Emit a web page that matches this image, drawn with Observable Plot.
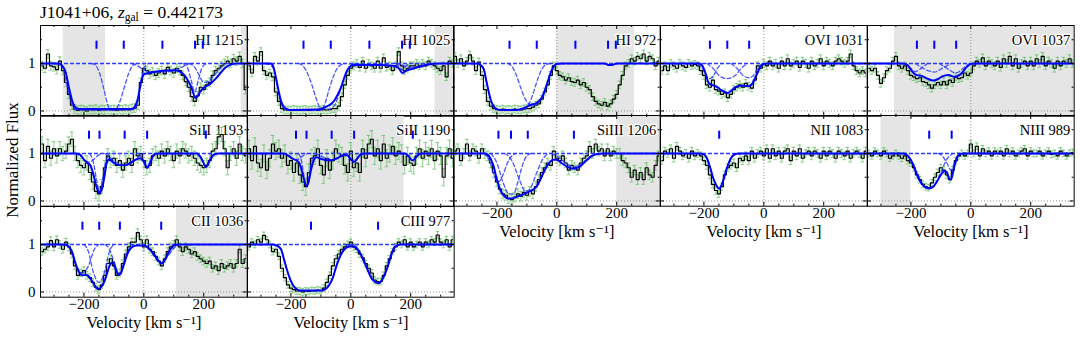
<!DOCTYPE html>
<html><head><meta charset="utf-8">
<script src="https://cdn.jsdelivr.net/npm/d3@7"></script>
<script src="https://cdn.jsdelivr.net/npm/@observablehq/plot@0.6"></script>
<style>
body{margin:0;background:#fff;}
#fig{position:relative;width:1080px;height:343px;overflow:hidden;font-family:"Liberation Serif","DejaVu Serif",serif;background:#fff;}
#fig .pan{position:absolute;}
#fig svg{background:transparent !important;overflow:visible !important;max-width:none !important;font-family:"Liberation Serif","DejaVu Serif",serif !important;}
#fig svg text, #fig svg g{font-family:"Liberation Serif","DejaVu Serif",serif !important;}
.title{position:absolute;left:40px;top:2px;font-size:17.5px;white-space:nowrap;line-height:20px;}
.title sub{font-size:11.5px;vertical-align:-3px;}
.ylab{position:absolute;left:13px;top:160px;transform:translate(-50%,-50%) rotate(-90deg);font-size:17px;white-space:nowrap;}
</style></head><body>
<div id="fig">
<div class="title">J1041+06, <i>z</i><sub>gal</sub> = 0.442173</div>
<div class="ylab">Normalized Flux</div>
</div>
<script>
// ---------- data (velocity grid: -340 .. 340 km/s, 10 km/s pixels) ----------
const V0 = -340, DV = 10;
const xMajor = [-200, 0, 200];
const xMinor = [-300, -250, -150, -100, -50, 50, 100, 150, 250, 300];
const yMajor = [0, 1];
const yMinor = [0.5, 1.5];
const xTickLabels = [{v: -200, t: "−200"}, {v: 0, t: "0"}, {v: 200, t: "200"}];
const yTickLabels = [{v: 0, t: "0"}, {v: 1, t: "1"}];
const markerRange = [1.3, 1.47];

const labels = ["HI 1215","HI 1025","HI 972","OVI 1031","OVI 1037","SiII 1193","SiII 1190","SiIII 1206","NII 1083","NIII 989","CII 1036","CIII 977"];

const fluxHI1215 = [0.95,0.9,1.2,0.95,0.93,0.87,1.05,0.85,0.6,0.35, 0.12,0.04,0.01,0.03,0.02,0.0,0.03,0.02,0.04,0.01, 0.03,0.02,0.04,0.02,0.03,0.01,0.03,0.02,0.04,0.02, 0.05,0.06,0.12,0.6,0.9,0.85,0.78,0.82,0.75,0.8, 0.85,0.78,0.92,0.85,0.8,0.9,0.85,0.75,0.62,0.5, 0.3,0.2,0.32,0.5,0.45,0.55,0.6,0.75,0.85,0.9, 0.95,1.0,1.05,1.0,1.1,1.05,1.15,1.0,0.45];
const fluxHI1025 = [0.95,0.8,1.15,1.05,1.25,0.85,0.75,0.8,0.72,0.4, 0.2,0.05,0.02,0.02,0.01,0.03,0.02,0.01,0.02,0.03, 0.01,0.02,0.03,0.01,0.02,0.03,0.02,0.03,0.05,0.05, 0.1,0.3,0.55,0.75,0.9,0.95,1.0,0.92,1.05,0.9, 1.0,0.95,0.9,1.05,0.9,1.12,0.92,0.95,0.85,0.95, 1.25,0.95,0.85,0.9,0.95,0.95,1.0,0.95,1.0,0.95, 1.05,1.0,0.95,0.9,0.85,0.95,0.72,1.05,1.0];
const fluxHI972 = [1.15,1.0,1.1,0.95,1.05,1.18,1.05,0.85,1.03,0.75, 0.45,0.2,0.1,0.05,0.03,0.02,0.04,0.02,0.03,0.02, 0.04,0.03,0.02,0.04,0.05,0.05,0.08,0.12,0.15,0.25, 0.4,0.55,0.75,0.95,0.85,0.75,0.72,0.65,0.7,0.62, 0.6,0.65,0.55,0.6,0.5,0.45,0.3,0.2,0.15,0.12, 0.18,0.1,0.15,0.25,0.35,0.55,0.75,0.95,1.0,1.1, 1.05,1.15,1.1,1.2,1.05,1.15,1.1,0.95,1.05];
const fluxOVI1031 = [0.85,0.95,0.85,1.0,0.95,0.9,1.0,0.95,0.92,1.0, 0.95,0.98,0.95,0.85,0.75,0.55,0.5,0.65,0.45,0.42, 0.35,0.38,0.28,0.35,0.45,0.5,0.55,0.5,0.58,0.52, 0.48,0.65,0.95,0.9,1.0,0.95,1.05,0.95,1.0,0.9, 1.05,0.95,1.1,0.95,1.0,1.05,0.92,1.05,1.0,0.9, 1.05,0.95,1.0,1.1,0.95,1.05,1.0,0.95,1.05,1.1, 1.05,1.0,1.05,1.2,0.95,0.85,0.8,0.85,0.8];
const fluxOVI1037 = [0.9,0.85,0.9,0.75,0.58,0.7,0.85,0.9,1.05,1.15, 0.95,0.9,0.95,0.85,0.75,0.72,0.68,0.7,0.62,0.6, 0.55,0.48,0.55,0.6,0.55,0.62,0.55,0.65,0.6,0.72, 0.68,0.7,0.8,0.75,0.8,0.95,1.05,1.0,1.12,0.95, 1.05,1.0,0.95,1.05,0.92,1.1,1.0,1.15,0.95,1.1, 0.9,1.0,1.05,0.95,1.05,0.95,1.1,1.0,1.15,0.95, 1.05,1.0,0.9,1.05,0.95,1.05,1.0,1.1,1.0];
const fluxSiII1193 = [1.2,0.85,1.15,0.9,1.1,0.95,1.1,1.0,1.05,1.2, 1.3,1.0,0.85,0.75,0.7,0.8,0.6,0.4,0.2,0.15, 0.3,0.7,0.95,0.85,0.9,0.75,0.85,0.65,0.8,0.9, 0.75,1.1,0.95,1.0,0.85,0.7,0.75,0.95,1.0,0.9, 1.05,0.95,1.1,1.0,0.85,1.05,0.95,1.1,1.05,0.95, 1.0,0.9,0.8,0.75,0.7,0.75,0.85,1.05,1.1,1.35, 1.4,1.1,0.7,1.0,1.1,0.9,1.2,1.0,0.95];
const fluxSiII1190 = [1.1,0.85,1.15,0.8,0.7,1.0,0.65,0.9,1.2,1.05, 1.1,0.9,1.0,0.75,0.85,0.6,0.8,0.55,0.4,0.3, 0.6,0.9,0.95,1.1,0.75,0.55,0.9,0.65,0.85,1.1, 1.0,0.95,0.75,0.6,1.05,0.7,0.8,0.6,1.1,0.9, 1.2,1.3,0.95,1.1,0.85,1.2,0.9,1.0,1.15,0.95, 1.05,1.0,0.75,0.95,0.8,0.75,0.95,1.1,0.9,1.05, 0.95,1.1,0.85,1.05,0.95,0.5,0.95,1.1,0.9];
const fluxSiIII1206 = [1.05,1.1,0.85,1.0,1.2,0.95,1.1,1.05,0.9,1.1, 1.0,0.95,0.8,0.6,0.4,0.25,0.15,0.12,0.05,0.03, 0.08,0.15,0.1,0.18,0.12,0.2,0.15,0.3,0.45,0.6, 0.7,0.8,0.75,1.05,0.9,0.85,0.95,0.8,0.65,0.75, 0.7,0.65,0.8,0.9,0.95,1.15,1.0,1.2,1.05,1.1, 0.95,1.1,0.95,1.05,1.0,1.0,0.85,0.8,0.7,0.5, 0.65,0.45,0.6,0.45,0.7,0.55,0.5,0.75,0.95];
const fluxNII1083 = [0.85,1.05,1.0,1.1,0.9,1.15,1.05,0.95,1.0,0.9, 1.05,0.95,1.0,0.95,0.85,0.75,0.55,0.35,0.22,0.15, 0.3,0.55,0.7,0.75,0.8,0.7,0.9,0.85,0.95,0.85, 1.05,0.9,1.0,1.05,0.95,1.1,0.9,1.1,0.95,1.05, 0.9,1.05,1.1,0.85,1.05,0.95,1.1,0.9,1.0,1.05, 0.95,1.05,1.0,0.9,1.05,0.95,1.05,1.0,0.9,1.05, 1.0,0.95,1.05,0.9,1.0,1.05,1.0,0.9,1.05];
const fluxNIII989 = [1.0,0.95,1.05,1.0,0.95,1.05,1.0,0.9,0.95,1.0, 0.95,0.9,0.95,0.85,0.8,0.7,0.55,0.45,0.35,0.3, 0.28,0.38,0.5,0.6,0.7,0.65,0.55,0.45,0.65,0.85, 0.95,1.0,0.95,1.0,1.2,1.0,1.15,0.95,1.1,1.0, 1.05,0.95,1.05,1.0,1.05,0.95,1.1,1.0,1.05,0.95, 1.0,1.05,1.1,0.95,1.05,1.0,1.0,1.05,0.95,1.0, 1.05,0.98,1.0,0.95,1.05,1.0,0.95,1.0,1.02];
const fluxCII1036 = [0.85,0.9,0.95,1.08,0.95,1.1,1.0,0.9,1.05,0.95, 0.8,0.55,0.35,0.4,0.45,0.35,0.3,0.2,0.1,0.05, 0.15,0.35,0.6,0.7,0.55,0.35,0.4,0.6,0.8,0.95, 1.05,1.05,1.25,1.1,0.95,1.1,0.9,0.85,0.75,0.65, 0.55,0.7,0.85,0.95,1.0,1.1,0.95,0.85,0.95,0.9, 0.8,0.85,0.75,0.7,0.65,0.6,0.65,0.5,0.55,0.45, 0.6,0.5,0.55,0.6,0.5,0.6,0.9,0.6,0.7];
const fluxCIII977 = [0.95,1.05,1.0,1.1,1.05,1.19,1.1,1.0,0.85,0.9, 0.75,0.5,0.3,0.15,0.08,0.05,0.02,0.02,0.0,0.02, 0.01,0.03,0.02,0.04,0.03,0.08,0.2,0.35,0.55,0.7, 0.8,0.9,0.95,1.0,1.05,0.95,0.9,0.8,0.72,0.6, 0.5,0.4,0.25,0.22,0.22,0.35,0.55,0.7,0.85,0.95, 1.05,1.0,1.1,0.95,1.05,0.95,1.0,1.05,0.95,1.05, 1.0,1.1,1.05,1.2,1.05,1.0,1.1,0.95,1.1];

const errs = [0.09,0.08,0.08,0.08,0.08,0.15,0.18,0.1,0.08,0.07,0.08,0.07];

// best-fit model (solid) sampled as [velocity, flux]
const modelHI1215 = [[-345,1],[-285,1],[-278,0.99],[-270,0.93],[-261,0.82],[-255,0.65],[-250,0.49],[-244,0.33],[-239,0.21],[-233,0.12],[-228,0.07],[-215,0.04],[-40,0.04],[-33,0.07],[-27,0.13],[-22,0.21],[-16,0.38],[-11,0.56],[-5,0.7],[0,0.77],[17,0.8],[56,0.84],[100,0.86],[120,0.83],[133,0.77],[145,0.67],[156,0.54],[165,0.38],[172,0.28],[178,0.3],[185,0.37],[194,0.45],[208,0.52],[222,0.57],[240,0.68],[256,0.8],[272,0.91],[289,0.97],[310,1],[345,1]];
const modelHI1025 = [[-345,1],[-270,1],[-262,0.98],[-256,0.87],[-250,0.7],[-242,0.45],[-233,0.21],[-225,0.1],[-217,0.05],[-200,0.02],[-110,0.03],[-89,0.07],[-70,0.13],[-56,0.21],[-45,0.33],[-33,0.49],[-22,0.7],[-11,0.87],[0,0.95],[10,0.97],[100,0.97],[140,0.95],[160,0.9],[172,0.8],[182,0.84],[200,0.88],[230,0.93],[260,0.98],[290,1],[345,1]];
const modelHI972 = [[-345,1],[-265,1],[-255,0.97],[-244,0.88],[-236,0.65],[-228,0.42],[-220,0.22],[-211,0.1],[-200,0.04],[-185,0.02],[-133,0.02],[-115,0.05],[-100,0.09],[-85,0.13],[-67,0.17],[-55,0.24],[-45,0.35],[-33,0.56],[-22,0.78],[-12,0.92],[0,0.99],[15,1],[160,1],[172,0.97],[185,0.97],[200,1],[345,1]];
const modelOVI1031 = [[-345,1],[-215,1],[-205,0.95],[-195,0.8],[-185,0.6],[-175,0.55],[-160,0.52],[-145,0.45],[-130,0.4],[-120,0.38],[-110,0.42],[-95,0.5],[-80,0.53],[-65,0.53],[-50,0.52],[-38,0.58],[-25,0.75],[-12,0.92],[0,0.99],[15,1],[345,1]];
const modelOVI1037 = [[-345,1],[-230,1],[-212,0.97],[-198,0.85],[-183,0.76],[-165,0.74],[-145,0.68],[-125,0.64],[-110,0.67],[-95,0.73],[-75,0.76],[-55,0.72],[-45,0.73],[-30,0.8],[-15,0.92],[0,0.99],[15,1],[345,1]];
const modelSiII1193 = [[-345,1],[-225,1],[-212,0.97],[-200,0.87],[-188,0.8],[-178,0.74],[-168,0.55],[-158,0.3],[-148,0.17],[-140,0.25],[-132,0.5],[-124,0.8],[-115,0.88],[-100,0.8],[-85,0.76],[-64,0.75],[-45,0.8],[-30,0.86],[-12,0.9],[0,0.83],[11,0.7],[22,0.82],[33,0.97],[45,1],[178,1],[192,0.9],[208,0.72],[222,0.88],[236,0.98],[250,1],[345,1]];
const modelSiII1190 = [[-345,1],[-225,1],[-210,0.96],[-195,0.89],[-183,0.86],[-172,0.8],[-163,0.62],[-155,0.42],[-148,0.31],[-141,0.4],[-133,0.65],[-125,0.84],[-115,0.92],[-100,0.89],[-80,0.86],[-64,0.86],[-45,0.9],[-25,0.97],[-12,0.96],[0,0.88],[11,0.82],[22,0.9],[33,0.98],[45,1],[180,1],[193,0.94],[206,0.85],[220,0.94],[233,1],[345,1]];
const modelSiIII1206 = [[-345,1],[-240,1],[-225,0.93],[-212,0.75],[-200,0.45],[-190,0.25],[-175,0.1],[-160,0.05],[-145,0.06],[-125,0.11],[-105,0.16],[-85,0.22],[-68,0.3],[-55,0.45],[-42,0.63],[-28,0.78],[-12,0.87],[0,0.87],[15,0.8],[35,0.72],[56,0.68],[75,0.72],[95,0.83],[115,0.94],[135,0.99],[155,1],[345,1]];
const modelNII1083 = [[-345,1],[-215,1],[-200,0.98],[-190,0.9],[-180,0.72],[-170,0.5],[-160,0.35],[-150,0.26],[-140,0.35],[-130,0.55],[-120,0.75],[-110,0.9],[-100,0.97],[-85,1],[345,1]];
const modelNIII989 = [[-345,1],[-225,1],[-210,0.95],[-195,0.8],[-183,0.6],[-170,0.42],[-155,0.3],[-140,0.26],[-125,0.3],[-112,0.42],[-100,0.55],[-88,0.63],[-80,0.6],[-72,0.47],[-66,0.45],[-58,0.65],[-48,0.88],[-38,0.98],[-25,1],[345,1]];
const modelCII1036 = [[-345,1],[-265,1],[-255,0.98],[-240,0.85],[-228,0.6],[-215,0.4],[-205,0.35],[-195,0.36],[-185,0.33],[-170,0.2],[-158,0.08],[-150,0.07],[-140,0.12],[-130,0.25],[-120,0.45],[-110,0.6],[-103,0.62],[-95,0.5],[-85,0.36],[-78,0.38],[-68,0.55],[-55,0.8],[-42,0.93],[-25,0.98],[0,0.98],[20,0.9],[35,0.78],[50,0.65],[58,0.6],[68,0.65],[80,0.8],[92,0.93],[105,0.99],[120,1],[345,1]];
const modelCIII977 = [[-345,1],[-260,1],[-245,0.97],[-233,0.9],[-222,0.66],[-210,0.4],[-200,0.23],[-185,0.08],[-170,0.03],[-100,0.03],[-85,0.06],[-72,0.15],[-60,0.3],[-48,0.55],[-35,0.76],[-22,0.9],[-5,0.96],[10,0.96],[25,0.88],[40,0.7],[55,0.48],[70,0.28],[85,0.2],[95,0.19],[108,0.3],[122,0.51],[135,0.78],[147,0.95],[165,1],[345,1]];

// individual components (dashed), sampled as [velocity, flux]
const compsHI1215 = [
  [[-300,1],[-285,0.99],[-275,0.95],[-262,0.7],[-250,0.35],[-238,0.1],[-225,0.02],[-95,0.02],[-80,0.2],[-65,0.5],[-50,0.8],[-35,0.97],[-20,1]],
  [[-175,1],[-162,0.97],[-148,0.8],[-133,0.45],[-120,0.12],[-110,0.02],[-38,0.03],[-25,0.1],[-15,0.4],[-5,0.75],[5,0.95],[15,1]],
  [[-40,1],[-20,0.95],[0,0.86],[30,0.82],[70,0.82],[110,0.86],[135,0.95],[155,1]],
  [[130,1],[145,0.92],[158,0.65],[170,0.4],[182,0.65],[195,0.92],[210,1]],
  [[150,1],[170,0.92],[185,0.75],[200,0.6],[215,0.62],[235,0.75],[255,0.9],[275,1]]];
const compsHI1025 = [
  [[-285,1],[-270,0.97],[-256,0.87],[-245,0.5],[-235,0.2],[-225,0.06],[-210,0.02],[-100,0.02],[-88,0.12],[-75,0.4],[-60,0.7],[-45,0.9],[-30,0.98],[-20,1]],
  [[-175,1],[-160,0.95],[-145,0.8],[-130,0.55],[-115,0.25],[-100,0.05],[-70,0.04],[-56,0.1],[-45,0.25],[-33,0.49],[-22,0.7],[-11,0.87],[5,0.98],[20,1]],
  [[150,1],[163,0.92],[172,0.86],[182,0.93],[195,1]],
  [[150,1],[170,0.97],[198,0.92],[230,0.95],[260,1]]];
const compsHI972 = [
  [[-285,1],[-262,0.98],[-244,0.88],[-236,0.65],[-228,0.42],[-220,0.22],[-211,0.1],[-200,0.03],[-110,0.03],[-95,0.12],[-80,0.35],[-65,0.65],[-50,0.88],[-35,0.98],[-20,1]],
  [[-165,1],[-150,0.94],[-135,0.75],[-120,0.48],[-105,0.25],[-90,0.14],[-75,0.12],[-60,0.18],[-45,0.33],[-33,0.56],[-22,0.78],[-12,0.92],[0,0.99],[15,1]],
  [[155,1],[170,0.98],[185,0.97],[200,1]]];
const compsOVI1031 = [
  [[-220,1],[-205,0.9],[-190,0.72],[-180,0.68],[-170,0.72],[-155,0.9],[-140,1]],
  [[-190,1],[-170,0.9],[-150,0.75],[-122,0.68],[-95,0.75],[-75,0.9],[-55,1]],
  [[-110,1],[-90,0.9],[-70,0.75],[-50,0.7],[-35,0.75],[-20,0.9],[-5,1]]];
const compsOVI1037 = [
  [[-225,1],[-205,0.92],[-185,0.83],[-165,0.9],[-145,1]],
  [[-185,1],[-160,0.9],[-122,0.82],[-90,0.92],[-65,1]],
  [[-105,1],[-80,0.9],[-50,0.8],[-25,0.9],[-5,1]]];
const compsSiII1193 = [
  [[-230,1],[-212,0.95],[-195,0.85],[-183,0.82],[-170,0.86],[-155,0.95],[-140,1]],
  [[-180,1],[-168,0.8],[-158,0.45],[-148,0.2],[-138,0.45],[-128,0.8],[-115,1]],
  [[-130,1],[-110,0.9],[-85,0.79],[-64,0.76],[-40,0.8],[-20,0.92],[0,1]],
  [[-15,1],[-3,0.88],[11,0.71],[24,0.88],[35,1]],
  [[178,1],[192,0.88],[208,0.72],[222,0.88],[236,1]]];
const compsSiII1190 = [
  [[-225,1],[-205,0.95],[-190,0.88],[-183,0.87],[-175,0.88],[-160,0.95],[-145,1]],
  [[-175,1],[-165,0.85],[-157,0.55],[-148,0.32],[-139,0.55],[-130,0.85],[-120,1]],
  [[-120,1],[-100,0.95],[-80,0.89],[-64,0.87],[-45,0.9],[-25,0.96],[-10,1]],
  [[-15,1],[-5,0.93],[11,0.83],[25,0.93],[35,1]],
  [[180,1],[193,0.94],[206,0.86],[220,0.94],[232,1]]];
const compsSiIII1206 = [
  [[-245,1],[-225,0.85],[-210,0.55],[-195,0.4],[-180,0.55],[-165,0.8],[-150,0.95],[-135,1]],
  [[-220,1],[-200,0.8],[-180,0.4],[-160,0.15],[-145,0.15],[-130,0.4],[-115,0.75],[-100,0.95],[-85,1]],
  [[-175,1],[-150,0.85],[-125,0.45],[-105,0.2],[-90,0.25],[-70,0.55],[-50,0.85],[-30,1]],
  [[-20,1],[0,0.95],[30,0.8],[57,0.72],[85,0.8],[115,0.95],[140,1]]];
const compsNII1083 = [
  [[-215,1],[-200,0.98],[-190,0.9],[-180,0.72],[-170,0.5],[-160,0.35],[-150,0.26],[-140,0.35],[-130,0.55],[-120,0.75],[-110,0.9],[-100,0.97],[-85,1]]];
const compsNIII989 = [
  [[-225,1],[-205,0.9],[-180,0.6],[-160,0.35],[-140,0.28],[-120,0.35],[-100,0.6],[-80,0.88],[-60,1]],
  [[-110,1],[-95,0.95],[-80,0.8],[-66,0.65],[-55,0.8],[-45,0.95],[-35,1]]];
const compsCII1036 = [
  [[-260,1],[-245,0.9],[-225,0.55],[-205,0.4],[-185,0.55],[-165,0.9],[-150,1]],
  [[-200,1],[-185,0.85],[-170,0.45],[-150,0.2],[-130,0.45],[-115,0.85],[-100,1]],
  [[-130,1],[-115,0.9],[-100,0.65],[-82,0.38],[-65,0.65],[-50,0.9],[-35,1]],
  [[-5,1],[15,0.92],[35,0.75],[58,0.6],[80,0.75],[100,0.92],[115,1]]];
const compsCIII977 = [
  [[-260,1],[-245,0.97],[-233,0.9],[-222,0.66],[-210,0.4],[-200,0.23],[-185,0.08],[-170,0.03],[-100,0.03],[-85,0.06],[-72,0.15],[-60,0.3],[-48,0.55],[-35,0.76],[-22,0.9],[-5,0.98],[10,1]],
  [[-10,1],[10,0.98],[25,0.89],[40,0.7],[55,0.48],[70,0.28],[85,0.2],[95,0.19],[108,0.3],[122,0.51],[135,0.78],[147,0.95],[165,1]]];

// component centroid markers (km/s)
const markHI = [-158, -67, 62, 171, 197];
const markOVI = [-180, -122, -49];
const markSiII = [-183, -148, -64, 11, 207];
const markSiIII = [-195, -153, -97, 57];
const markNII = [-149];
const markNIII = [-139, -64];
const markCII = [-205, -149, -80, 58];
const markCIII = [-133, 91];

// masked (shaded) velocity ranges
const shadeHI1215 = [[-269, -128], [325, 345]];
const shadeHI1025 = [[281, 345]];
const shadeHI972 = [[0, 259]];
const shadeOVI1037 = [[-255, 345]];
const shadeSiII1190 = [[-345, 178]];
const shadeSiIII1206 = [[200, 345]];
const shadeNIII989 = [[-300, -200]];
const shadeCII1036 = [[109, 345]];

// ---------- build panels ----------
const fluxes = [fluxHI1215, fluxHI1025, fluxHI972, fluxOVI1031, fluxOVI1037, fluxSiII1193, fluxSiII1190, fluxSiIII1206, fluxNII1083, fluxNIII989, fluxCII1036, fluxCIII977];
const models = [modelHI1215, modelHI1025, modelHI972, modelOVI1031, modelOVI1037, modelSiII1193, modelSiII1190, modelSiIII1206, modelNII1083, modelNIII989, modelCII1036, modelCIII977];
const comps = [compsHI1215, compsHI1025, compsHI972, compsOVI1031, compsOVI1037, compsSiII1193, compsSiII1190, compsSiIII1206, compsNII1083, compsNIII989, compsCII1036, compsCIII977];
const markers = [markHI, markHI, markHI, markOVI, markOVI, markSiII, markSiII, markSiIII, markNII, markNIII, markCII, markCIII];
const shades = [shadeHI1215, shadeHI1025, shadeHI972, [], shadeOVI1037, [], shadeSiII1190, shadeSiIII1206, [], shadeNIII989, shadeCII1036, []];

const X0 = 40, Y0 = 24.5, PW = 206.67, PH = 90.7;
const XD = [-345, 345], YD = [-0.11, 1.8];
const BLUE = "#0000ff", DASHBLUE = "#2b3bff", ERR = "#5fbf5f", SHADE = "#e5e5e5";
const FONT = "Liberation Serif";
const fig = document.getElementById("fig");

labels.forEach((label, k) => {
  const row = Math.floor(k / 5), col = k % 5;
  const showX = (row === 2) || (row === 1 && col >= 2);
  const showY = col === 0;
  const ml = 45, mr = 6, mt = 6, mb = 46;
  const W = PW, H = PH;
  const pts = fluxes[k].map((f, i) => ({v: V0 + i * DV, f}));
  const e = errs[k];
  const lineOf = (arr, opts) => Plot.line(arr, {x: d => d[0], y: d => d[1], curve: "monotone-x", clip: true, ...opts});
  const marks = [
    Plot.rect(shades[k], {x1: d => d[0], x2: d => d[1], fill: SHADE}),
    Plot.ruleY([0], {stroke: "#777", strokeDasharray: "1,2", strokeWidth: 0.8}),
    Plot.ruleX([0], {stroke: "#777", strokeDasharray: "1,2", strokeWidth: 0.8}),
    Plot.text([label], {frameAnchor: "top-right", textAnchor: "end", dx: -4, dy: 9, fontSize: 14.5, fill: "black", stroke: "white", strokeWidth: 2.5, paintOrder: "stroke", fontFamily: FONT}),
    Plot.ruleX(pts, {x: "v", y1: d => d.f - e, y2: d => d.f + e, stroke: ERR, strokeOpacity: 0.75, strokeWidth: 1, clip: true}),
    Plot.ruleY(pts, {y: d => d.f + e, x1: d => d.v - 6, x2: d => d.v + 6, stroke: ERR, strokeOpacity: 0.75, strokeWidth: 1, clip: true}),
    Plot.ruleY(pts, {y: d => d.f - e, x1: d => d.v - 6, x2: d => d.v + 6, stroke: ERR, strokeOpacity: 0.75, strokeWidth: 1, clip: true}),
    Plot.line(pts, {x: "v", y: "f", curve: "step", stroke: "#000", strokeWidth: 1.2, clip: true}),
    Plot.ruleY([1], {stroke: DASHBLUE, strokeDasharray: "4,2", strokeWidth: 1.3}),
    ...comps[k].map(c => lineOf(c, {stroke: DASHBLUE, strokeDasharray: "4,2.5", strokeWidth: 1.3, strokeOpacity: 0.85})),
    lineOf(models[k], {stroke: BLUE, strokeWidth: 2}),
    Plot.ruleX(markers[k], {x: d => d, y1: () => markerRange[0], y2: () => markerRange[1], stroke: BLUE, strokeWidth: 2}),
    // inward ticks on all sides
    Plot.ruleX(xMajor, {x: d => d, insetTop: H - 4, stroke: "black"}),
    Plot.ruleX(xMajor, {x: d => d, insetBottom: H - 4, stroke: "black"}),
    Plot.ruleX(xMinor, {x: d => d, insetTop: H - 2, stroke: "black"}),
    Plot.ruleX(xMinor, {x: d => d, insetBottom: H - 2, stroke: "black"}),
    Plot.ruleY(yMajor, {y: d => d, insetRight: W - 4, stroke: "black"}),
    Plot.ruleY(yMajor, {y: d => d, insetLeft: W - 4, stroke: "black"}),
    Plot.ruleY(yMinor, {y: d => d, insetRight: W - 2, stroke: "black"}),
    Plot.ruleY(yMinor, {y: d => d, insetLeft: W - 2, stroke: "black"}),
    Plot.frame({stroke: "black", strokeWidth: 1})
  ];
  if (showX) {
    marks.push(Plot.text(xTickLabels, {x: "v", text: "t", frameAnchor: "bottom", dy: 12, fontSize: 15, fill: "black", fontFamily: FONT}));
    marks.push(Plot.text(["Velocity [km s⁻¹]"], {frameAnchor: "bottom", dy: 31, fontSize: 16.5, fill: "black", fontFamily: FONT}));
  }
  if (showY) {
    marks.push(Plot.text(yTickLabels, {y: "v", text: "t", frameAnchor: "left", textAnchor: "end", dx: -5, fontSize: 15, fill: "black", fontFamily: FONT}));
  }
  const svg = Plot.plot({
    width: W + ml + mr, height: H + mt + mb,
    marginLeft: ml, marginRight: mr, marginTop: mt, marginBottom: mb,
    x: {domain: XD, axis: null},
    y: {domain: YD, axis: null},
    style: {background: "transparent", overflow: "visible", fontFamily: "'Liberation Serif', 'DejaVu Serif', serif"},
    marks
  });
  const div = document.createElement("div");
  div.className = "pan";
  div.style.left = (X0 + col * PW - ml) + "px";
  div.style.top = (Y0 + row * PH - mt) + "px";
  div.style.width = (W + ml + mr) + "px";
  div.style.height = (H + mt + mb) + "px";
  div.appendChild(svg);
  fig.appendChild(div);
});
</script>
</body></html>
